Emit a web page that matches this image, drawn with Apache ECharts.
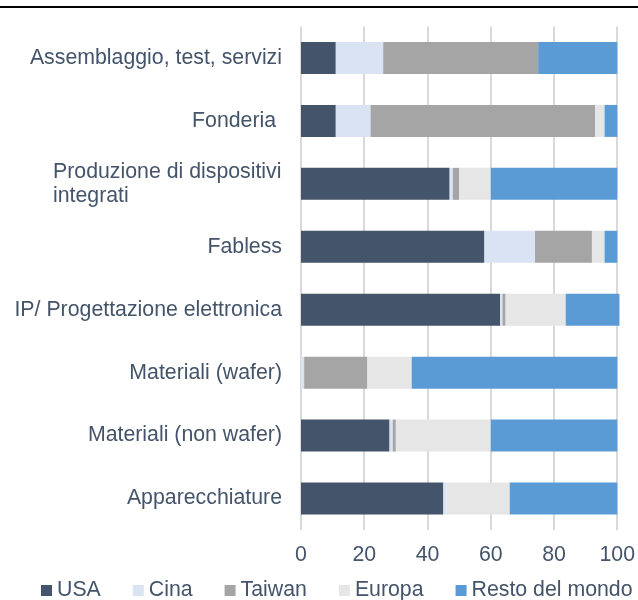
<!DOCTYPE html>
<html>
<head>
<meta charset="utf-8">
<script src="https://cdn.jsdelivr.net/npm/echarts@6/dist/echarts.min.js"></script>
<style>html,body{margin:0;padding:0;background:#fff;}#c{width:638px;height:600px;}</style>
</head>
<body>
<div id="c"></div>
<script>
const categories = [
  "Assemblaggio, test, servizi",
  "Fonderia ",
  "Produzione di dispositivi\nintegrati",
  "Fabless",
  "IP/ Progettazione elettronica",
  "Materiali (wafer)",
  "Materiali (non wafer)",
  "Apparecchiature"
];
const seriesNames = ["USA", "Cina", "Taiwan", "Europa", "Resto del mondo"];
const usa    = [11, 11, 47, 58, 63,   0, 28, 45];
const cina   = [15, 11,  1, 16, 0.7,  1,  1,  1];
const taiwan = [49, 71,  2, 18, 1,   20,  1,  0];
const europa = [ 0,  3, 10,  4, 19,  14, 30, 20];
const resto  = [25,  4, 40,  4, 17,  65, 40, 34];
const xTicks = [0, 20, 40, 60, 80, 100];

const colors = ["#44546A", "#DAE3F3", "#A5A5A5", "#E7E6E6", "#5B9BD5"];
const textColor = "#44546A";
const font = "Liberation Sans, Arial, sans-serif";
const fs = 21.3;

const cv = document.createElement('canvas').getContext('2d');
cv.font = fs + "px " + font;

const dataSets = [usa, cina, taiwan, europa, resto];
const chart = echarts.init(document.getElementById('c'), null, {renderer: 'canvas'});
chart.setOption({
  animation: false,
  color: colors,
  graphic: [{type: 'rect', shape: {x: 0, y: 6, width: 638, height: 2}, style: {fill: '#000'}}],
  grid: {left: 301, right: 19, top: 26.5, bottom: 70, containLabel: false},
  xAxis: {
    type: 'value', min: xTicks[0], max: xTicks[xTicks.length - 1], interval: 20,
    axisLine: {show: false}, axisTick: {show: false},
    splitLine: {lineStyle: {color: '#D9D9D9', width: 2}},
    axisLabel: {color: textColor, fontSize: fs, fontFamily: font, margin: 15}
  },
  yAxis: {
    type: 'category', data: categories, inverse: true,
    axisLine: {show: false}, axisTick: {show: false},
    axisLabel: {
      color: textColor, fontSize: fs, fontFamily: font, margin: 19, lineHeight: 24,
      formatter: function (v) {
        if (v.indexOf('\n') >= 0) {
          return v.split('\n').map(function (s) { return '{l|' + s + '}'; }).join('\n');
        }
        return v;
      },
      rich: {
        l: {
          width: Math.ceil(cv.measureText(categories[2].split('\n')[0]).width),
          align: 'left', color: textColor, fontSize: fs, fontFamily: font, lineHeight: 24
        }
      }
    }
  },
  legend: {
    left: 36, top: 575, itemWidth: 11, itemHeight: 11, itemGap: 32, icon: 'rect',
    textStyle: {color: textColor, fontSize: fs, fontFamily: font},
    data: seriesNames
  },
  series: seriesNames.map(function (n, i) {
    return {
      name: n, type: 'bar', stack: 'total', barWidth: 32, clip: false,
      data: dataSets[i], itemStyle: {color: colors[i]}
    };
  })
});
</script>
</body>
</html>
